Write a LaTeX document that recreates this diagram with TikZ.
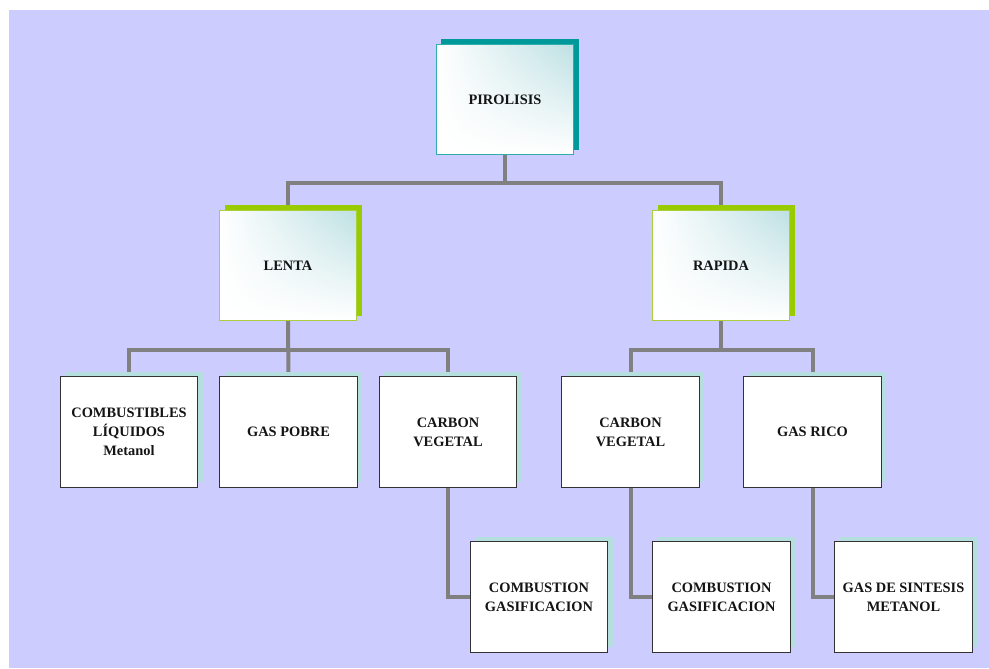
\documentclass[tikz,border=0pt]{standalone}
\usepackage{fontspec}
\setmainfont{Liberation Serif}
\usepackage{tikz}
\usetikzlibrary{positioning,shadows,shadings}

\definecolor{lavanda}{HTML}{CCCCFF}
\definecolor{lineagris}{HTML}{808080}
\definecolor{tealosc}{HTML}{009999}
\definecolor{tealborde}{HTML}{2DADAD}
\definecolor{tealclaro}{HTML}{BDE0E3}
\definecolor{verde}{HTML}{99CC00}
\definecolor{verdeborde}{HTML}{AACE3C}
\definecolor{sombra}{HTML}{B5DFDF}

\pgfdeclarelayer{fondo}
\pgfdeclarelayer{lineas}
\pgfsetlayers{fondo,lineas,main}

\begin{document}
\begin{tikzpicture}[
    x=0.75pt, y=-0.75pt,
    caja/.style={rectangle, draw, line width=0.6pt, minimum width=103pt, minimum height=83pt,
      inner sep=2pt, align=center, text=black!92,
      font=\fontsize{10.8}{14.2}\selectfont\bfseries},
    degradado/.style={upper right=tealclaro, upper left=white, lower left=white, lower right=white},
    raiz/.style={caja, draw=tealborde, degradado,
      general shadow={fill=tealosc, shadow xshift=3.8pt, shadow yshift=3.8pt}},
    tipo/.style={caja, draw=verdeborde, degradado,
      general shadow={fill=verde, shadow xshift=4.2pt, shadow yshift=4pt}},
    hoja/.style={caja, draw=black!80, fill=white,
      general shadow={fill=sombra, shadow xshift=3.8pt, shadow yshift=3.8pt}},
    conn/.style={draw=lineagris, line width=3pt}
  ]
    \useasboundingbox (0,0) rectangle (989,668);
    \begin{pgfonlayer}{fondo}
      \fill[lavanda] (9,10) rectangle (989,668);
    \end{pgfonlayer}

    % Nivel 1 y 2
    \node[raiz] (pirolisis) at (505,99.5) {PIROLISIS};
    \node[tipo] (lenta)  at (288,265.5) {LENTA};
    \node[tipo] (rapida) at (721,265.5) {RAPIDA};

    % Productos
    \node[hoja] (liquidos) at (129,432)   {COMBUSTIBLES\\LÍQUIDOS\\Metanol};
    \node[hoja] (gaspobre) at (288.5,432) {GAS POBRE};
    \node[hoja] (carbonL)  at (448,432)   {CARBON\\VEGETAL};
    \node[hoja] (carbonR)  at (630.5,432) {CARBON\\VEGETAL};
    \node[hoja] (gasrico)  at (812.5,432) {GAS RICO};

    % Usos
    \node[hoja] (combL)    at (539,597)   {COMBUSTION\\GASIFICACION};
    \node[hoja] (combR)    at (721.5,597) {COMBUSTION\\GASIFICACION};
    \node[hoja] (sintesis) at (903.5,597) {GAS DE SINTESIS\\METANOL};

    % Conectores
    \begin{pgfonlayer}{lineas}
      \draw[conn] (pirolisis.south) -- ++(0,28) -| (lenta.north);
      \draw[conn] (pirolisis.south) -- ++(0,28) -| (rapida.north);

      \draw[conn] (lenta.south) -- ++(0,29) -| (liquidos.north);
      \draw[conn] (lenta.south) -- (gaspobre.north);
      \draw[conn] (lenta.south) -- ++(0,29) -| (carbonL.north);

      \draw[conn] (rapida.south) -- ++(0,29) -| (carbonR.north);
      \draw[conn] (rapida.south) -- ++(0,29) -| (gasrico.north);

      \draw[conn] (carbonL.south) |- (combL.west);
      \draw[conn] (carbonR.south) |- (combR.west);
      \draw[conn] (gasrico.south) |- (sintesis.west);
    \end{pgfonlayer}
\end{tikzpicture}
\end{document}
